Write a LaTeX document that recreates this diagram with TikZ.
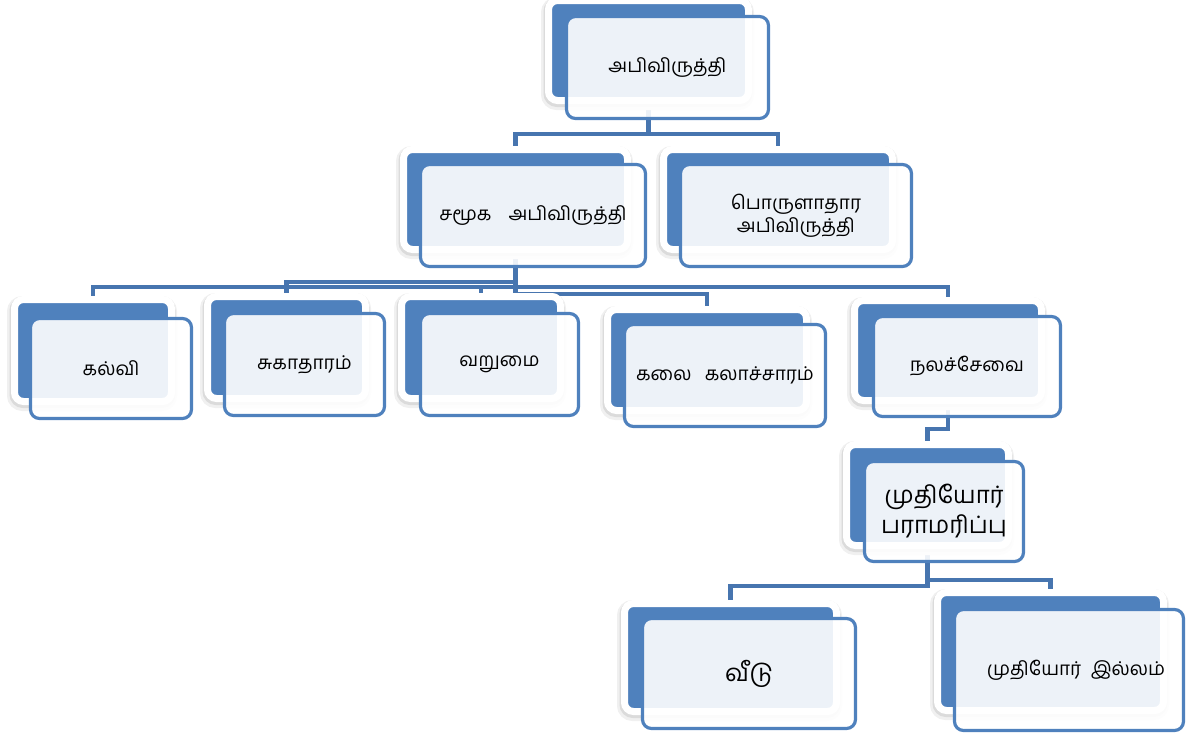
\documentclass[tikz,border=0pt]{standalone}
\usepackage{fontspec}
\newfontfamily\tamilfont[Script=Tamil]{Hind Madurai}
\usepackage{xcolor}
\usepackage{tikz}
\usetikzlibrary{backgrounds}
\definecolor{boxblue}{HTML}{4F81BD}
\definecolor{lineblue}{HTML}{4775AF}

\begin{document}
\begin{tikzpicture}[x=1pt,y=-1pt,
	backbox/.style={draw=white,line width=7pt,fill=boxblue,rounded corners=9pt,inner sep=0pt,
		preaction={draw=black!6,fill=black!6,line width=13pt,transform canvas={xshift=-1pt,yshift=-3pt}},
		preaction={draw=black!14,fill=black!14,line width=9pt,transform canvas={xshift=-.5pt,yshift=-2pt}}},
	frontbox/.style={draw=boxblue,line width=3.2pt,fill=white,fill opacity=.9,text opacity=1,
		rounded corners=9pt,inner sep=0pt,align=center,font=\tamilfont\fontsize{19}{23}\selectfont},
	bigtext/.style={font=\tamilfont\fontsize{24}{30}\selectfont},
	conn/.style={draw=lineblue,line width=4.3pt}]
		\useasboundingbox (0,0) rectangle (1193,736);
		\node[backbox,minimum width=200pt,minimum height=100pt] (devel) at (648.5,50.5) {};
		\node[frontbox,minimum width=202pt,minimum height=102pt] (develtxt) at (667.5,67.5) {அபிவிருத்தி};
		\node[backbox,minimum width=224pt,minimum height=100pt] (social) at (515.5,199.5) {};
		\node[frontbox,minimum width=225pt,minimum height=102pt] (socialtxt) at (533,215.5) {சமூக\hspace{0.9em}அபிவிருத்தி};
		\node[backbox,minimum width=229pt,minimum height=100pt] (econ) at (778,199.5) {};
		\node[frontbox,minimum width=231pt,minimum height=102pt] (econtxt) at (796,215.5) {பொருளாதார\\அபிவிருத்தி};
		\node[backbox,minimum width=157pt,minimum height=102pt] (educ) at (93,350.5) {};
		\node[frontbox,minimum width=161pt,minimum height=100pt] (eductxt) at (111,368.5) {கல்வி};
		\node[backbox,minimum width=158pt,minimum height=102pt] (health) at (286.5,347.5) {};
		\node[frontbox,minimum width=160pt,minimum height=102pt] (healthtxt) at (304.5,364.5) {சுகாதாரம்};
		\node[backbox,minimum width=159pt,minimum height=102pt] (poverty) at (481,347.5) {};
		\node[frontbox,minimum width=158pt,minimum height=102pt] (povertytxt) at (499.5,364.5) {வறுமை};
		\node[backbox,minimum width=199pt,minimum height=101pt] (arts) at (707,360) {};
		\node[frontbox,minimum width=201pt,minimum height=102pt] (artstxt) at (725,375.5) {கலை\hspace{0.7em}கலாச்சாரம்};
		\node[backbox,minimum width=187pt,minimum height=100pt] (welfare) at (948,350.5) {};
		\node[frontbox,minimum width=187pt,minimum height=100pt] (welfaretxt) at (967,366.5) {நலச்சேவை};
		\node[backbox,minimum width=162pt,minimum height=101pt] (elders) at (927.5,495) {};
		\node[frontbox,bigtext,minimum width=159pt,minimum height=100pt] (elderstxt) at (944,511.5) {முதியோர்\\பராமரிப்பு};
		\node[backbox,minimum width=212pt,minimum height=108pt] (home) at (730.5,657.5) {};
		\node[frontbox,bigtext,minimum width=213pt,minimum height=110pt] (hometxt) at (749,673.5) {வீடு};
		\node[backbox,minimum width=226pt,minimum height=118pt] (eldhome) at (1050.5,651.5) {};
		\node[frontbox,minimum width=229pt,minimum height=121pt] (eldhometxt) at (1069,670) {\hspace{14pt}முதியோர்\hspace{0.5em}இல்லம்};
		\begin{scope}[on background layer]
		\draw[conn] (devel.south) -- (devel.south |- 0,134) -| (social.north);
		\draw[conn] (devel.south) -- (devel.south |- 0,134) -| (econ.north);
		\draw[conn] (social.south) -- (social.south |- 0,287) -| (educ.north);
		\draw[conn] (social.south) -- (social.south |- 0,282) -| (health.north);
		\draw[conn] (social.south) -- (social.south |- 0,287) -| (poverty.north);
		\draw[conn] (social.south) -- (social.south |- 0,294) -| (arts.north);
		\draw[conn] (social.south) -- (social.south |- 0,287) -| (welfare.north);
		\draw[conn] (welfare.south) -- (welfare.south |- 0,429) -| (elders.north);
		\draw[conn] (elders.south) -- (elders.south |- 0,586) -| (home.north);
		\draw[conn] (elders.south) -- (elders.south |- 0,580) -| (eldhome.north);
		\end{scope}
	\end{tikzpicture}
\end{document}
